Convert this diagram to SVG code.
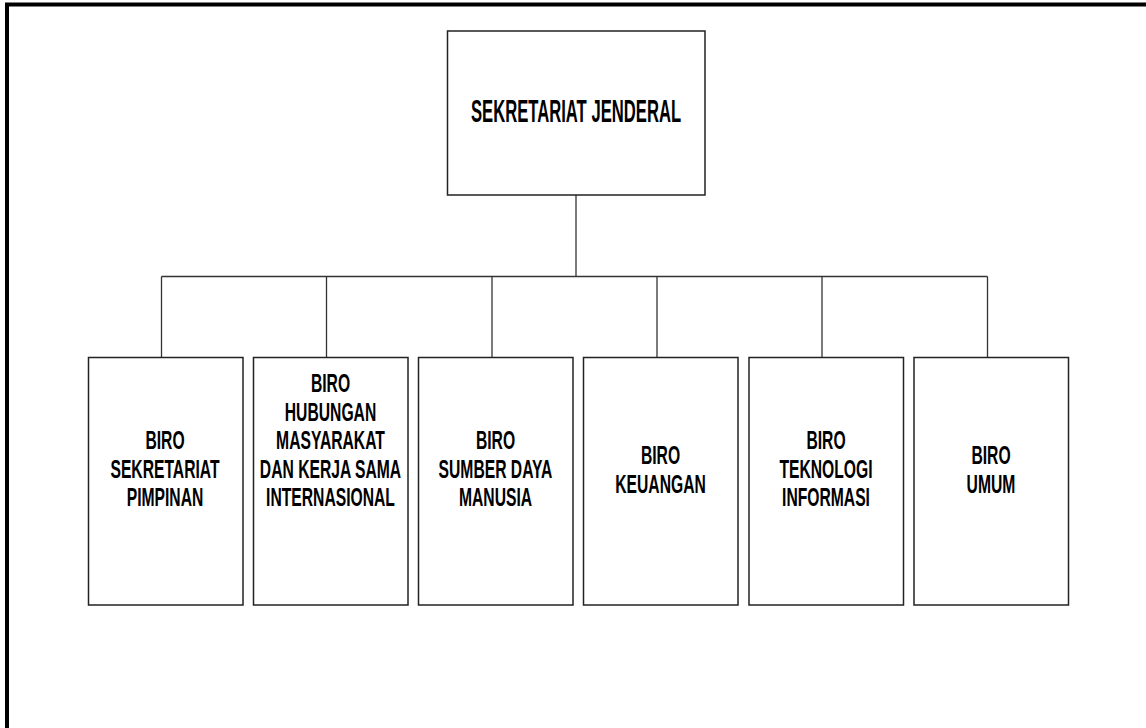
<svg xmlns="http://www.w3.org/2000/svg" width="1146" height="728" viewBox="0 0 1146 728">
<style>
.box{fill:#fff;stroke:#222;stroke-width:1.5}
.ln{fill:none;stroke:#333;stroke-width:1.3}
.t{font-family:"Liberation Sans",Arial,sans-serif;font-weight:bold;font-size:25.5px;fill:#000;text-anchor:middle}
.tt{font-family:"Liberation Sans",Arial,sans-serif;font-weight:bold;font-size:32px;fill:#000;text-anchor:middle}
</style>
<rect width="1146" height="728" fill="#fff"/>
<path d="M7,740 V4.5 H1160" fill="none" stroke="#000" stroke-width="4"/>
<g id="connectors">
<path class="ln" d="M576,195 V276.5"/>
<path class="ln" d="M161.5,276.5 H987.5"/>
<path class="ln" d="M161.5,276.5 V357.5"/>
<path class="ln" d="M326.5,276.5 V357.5"/>
<path class="ln" d="M492,276.5 V357.5"/>
<path class="ln" d="M657,276.5 V357.5"/>
<path class="ln" d="M822,276.5 V357.5"/>
<path class="ln" d="M987.5,276.5 V357.5"/>
</g>
<g id="sekjen">
<rect class="box" x="447.5" y="31" width="257.5" height="164"/>
<text class="tt" transform="translate(576,122) scale(0.52,1)">SEKRETARIAT JENDERAL</text>
</g>
<g id="biro-sekretariat-pimpinan">
<rect class="box" x="88.5" y="357.5" width="154.5" height="247.5"/>
<text class="t" transform="translate(165,449) scale(0.615,1)">BIRO</text>
<text class="t" transform="translate(165,477.5) scale(0.615,1)">SEKRETARIAT</text>
<text class="t" transform="translate(165,506) scale(0.615,1)">PIMPINAN</text>
</g>
<g id="biro-humas">
<rect class="box" x="253.5" y="357.5" width="154.5" height="247.5"/>
<text class="t" transform="translate(330.5,392) scale(0.615,1)">BIRO</text>
<text class="t" transform="translate(330.5,420.5) scale(0.615,1)">HUBUNGAN</text>
<text class="t" transform="translate(330.5,449) scale(0.615,1)">MASYARAKAT</text>
<text class="t" transform="translate(330.5,477.5) scale(0.615,1)">DAN KERJA SAMA</text>
<text class="t" transform="translate(330.5,506) scale(0.615,1)">INTERNASIONAL</text>
</g>
<g id="biro-sdm">
<rect class="box" x="418.5" y="357.5" width="154.5" height="247.5"/>
<text class="t" transform="translate(495.5,449) scale(0.615,1)">BIRO</text>
<text class="t" transform="translate(495.5,477.5) scale(0.615,1)">SUMBER DAYA</text>
<text class="t" transform="translate(495.5,506) scale(0.615,1)">MANUSIA</text>
</g>
<g id="biro-keuangan">
<rect class="box" x="583.5" y="357.5" width="154.5" height="247.5"/>
<text class="t" transform="translate(660.5,464) scale(0.615,1)">BIRO</text>
<text class="t" transform="translate(660.5,492.5) scale(0.615,1)">KEUANGAN</text>
</g>
<g id="biro-ti">
<rect class="box" x="749" y="357.5" width="154.5" height="247.5"/>
<text class="t" transform="translate(826,449) scale(0.615,1)">BIRO</text>
<text class="t" transform="translate(826,477.5) scale(0.615,1)">TEKNOLOGI</text>
<text class="t" transform="translate(826,506) scale(0.615,1)">INFORMASI</text>
</g>
<g id="biro-umum">
<rect class="box" x="914" y="357.5" width="154.5" height="247.5"/>
<text class="t" transform="translate(991,464) scale(0.615,1)">BIRO</text>
<text class="t" transform="translate(991,492.5) scale(0.615,1)">UMUM</text>
</g>
</svg>
